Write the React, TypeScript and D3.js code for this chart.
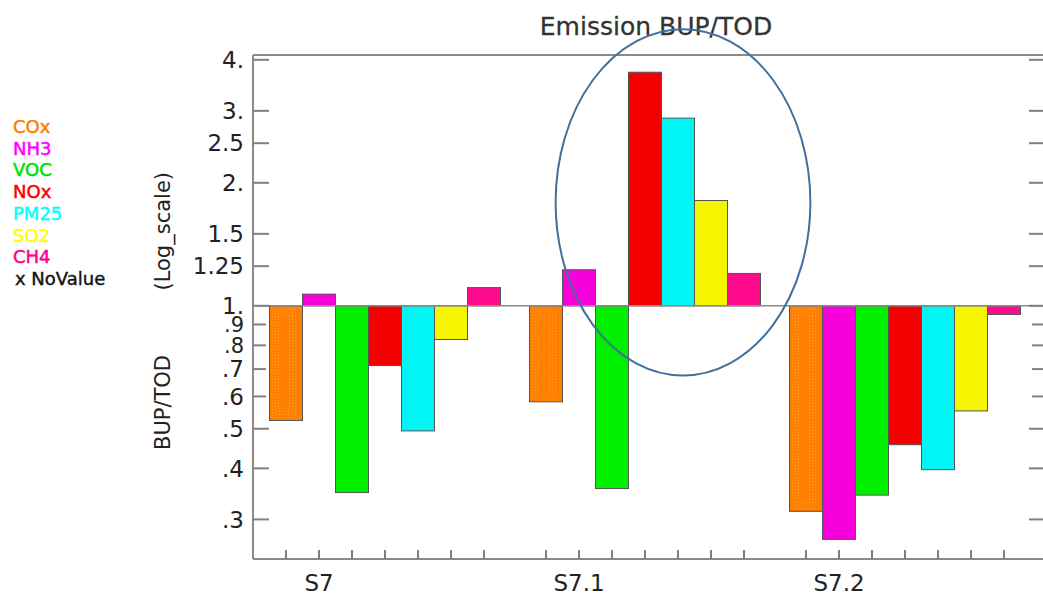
import React from 'react';
import * as d3 from 'd3';

// chart data
const groups = ['S7', 'S7.1', 'S7.2'];
const species = ['COx', 'NH3', 'VOC', 'NOx', 'PM25', 'SO2', 'CH4'];
const valuesS7 = [0.524, 1.068, 0.349, 0.714, 0.494, 0.827, 1.108];
const valuesS71 = [0.582, 1.225, 0.357, 3.73, 2.88, 1.81, 1.2];
const valuesS72 = [0.314, 0.268, 0.344, 0.457, 0.397, 0.553, 0.952];
const seriesValues = [valuesS7, valuesS71, valuesS72];

const yTickValues = [4, 3, 2.5, 2, 1.5, 1.25, 1, 0.9, 0.8, 0.7, 0.6, 0.5, 0.4, 0.3];
const yTickLabels = ['4.', '3.', '2.5', '2.', '1.5', '1.25', '1.', '.9', '.8', '.7', '.6', '.5', '.4', '.3'];

const barColors = ['#ff7f00', '#f600dc', '#00f000', '#f50000', '#00f5f5', '#f5f500', '#ff0a8a'];
const legendColors = ['#ff8000', '#ff00ff', '#00e000', '#ff0000', '#00ffff', '#ffff00', '#ff0090'];

const W = 1043;
const H = 595;
const frame = { left: 253, right: 1045, top: 55, bottom: 559 };
const FONT = '"DejaVu Sans", sans-serif';

export default function App() {
    const y = d3.scaleLog().domain([0.24, 4.11]).range([frame.bottom, frame.top]);

    const groupStep = 260;
    const groupGap = 29;
    const x0 = d3.scaleBand()
        .domain(groups)
        .range([269.5, 269.5 + groupStep * groups.length - groupGap])
        .paddingInner(groupGap / groupStep)
        .paddingOuter(0);
    const x1 = d3.scaleBand().domain(species).range([0, x0.bandwidth()]);
    const bw = x1.bandwidth();
    const y1 = y(1);

    const majorLong = (v: number) => v >= 1 || v <= 0.5;

    // annotation ellipse around the S7.1 peak
    const ex = (x0('S7.1') ?? 0) + (x1('PM25') ?? 0) + bw / 2 + 5;
    const eTop = y(4.75);
    const eBottom = y(0.675);

    return (
        <svg width={W} height={H} style={{ position: 'absolute', left: 0, top: 0, background: '#fff' }}
            fontFamily={FONT}>
            {/* title */}
            <text x={656} y={35} textAnchor="middle" fontSize={25} fill="#333" stroke="#333" strokeWidth={0.3}>Emission BUP/TOD</text>

            {/* legend */}
            {species.map((s, i) => (
                <text key={s} x={13} y={133 + i * 21.7} fontSize={18} fill={legendColors[i]}
                    stroke={legendColors[i]} strokeWidth={0.5}>{s}</text>
            ))}
            <text x={15} y={133 + species.length * 21.7} fontSize={18} fill="#111" stroke="#111" strokeWidth={0.4}>x NoValue</text>

            {/* y axis label */}
            <text transform={`translate(170,450) rotate(-90)`} fontSize={21} fill="#222" textAnchor="start">BUP/TOD</text>
            <text transform={`translate(170,172) rotate(-90)`} fontSize={21} fill="#222" textAnchor="end">(Log_scale)</text>

            {/* bars */}
            {groups.map((g, gi) => (
                <g key={g} transform={`translate(${x0(g)},0)`}>
                    {species.map((s, si) => {
                        const v = seriesValues[gi][si];
                        const yv = y(v);
                        const top = Math.min(yv, y1);
                        const h = Math.abs(yv - y1);
                        const bx = x1(s) ?? 0;
                        return (
                            <g key={s}>
                                <rect x={bx} y={top} width={bw} height={h} fill={barColors[si]}
                                    stroke="#555" strokeWidth={1} />
                                {s === 'COx' && [3, 6, 9].map(k => (
                                    <rect key={k} x={bx + k} y={top + k} width={Math.max(0, bw - 2 * k - 4)}
                                        height={Math.max(0, h - 2 * k)} fill="none" stroke="#ffae3a"
                                        strokeWidth={1} strokeDasharray="1,2" opacity={0.8} />
                                ))}
                            </g>
                        );
                    })}
                </g>
            ))}

            {/* frame */}
            <g stroke="#8a8a8a" strokeWidth={2} fill="none">
                <line x1={frame.left} x2={frame.left} y1={frame.top} y2={frame.bottom} />
                <line x1={frame.right} x2={frame.right} y1={frame.top} y2={frame.bottom} />
                <line x1={frame.left} x2={frame.right} y1={frame.top} y2={frame.top} />
                <line x1={frame.left} x2={frame.right} y1={frame.bottom} y2={frame.bottom} />
            </g>
            <line x1={frame.left} x2={frame.right} y1={y1} y2={y1} stroke="#8a8a8a" strokeWidth={1.5} />

            {/* y ticks, left and right */}
            {yTickValues.map((v, i) => {
                const len = majorLong(v) ? 16 : 13;
                return (
                    <g key={v}>
                        <line x1={frame.left} x2={frame.left + len} y1={y(v)} y2={y(v)} stroke="#808080" strokeWidth={2} />
                        <line x1={frame.right} x2={frame.right - len} y1={y(v)} y2={y(v)} stroke="#808080" strokeWidth={2} />
                        <text x={244} y={y(v)} dy="0.36em" textAnchor="end" fontSize={v < 1 && v > 0.75 ? 21 : 23}
                            fill="#222">{yTickLabels[i]}</text>
                    </g>
                );
            })}

            {/* x ticks at bar centres */}
            {groups.map(g => species.map(s => {
                const cx = (x0(g) ?? 0) + (x1(s) ?? 0) + bw / 2;
                return <line key={g + s} x1={cx} x2={cx} y1={frame.bottom} y2={frame.bottom - 9} stroke="#808080" strokeWidth={2} />;
            }))}
            {groups.map(g => (
                <text key={g} x={(x0(g) ?? 0) + (x1(species[1]) ?? 0) + bw / 2} y={591} textAnchor="middle"
                    fontSize={23} fill="#222">{g}</text>
            ))}

            {/* annotation */}
            <ellipse cx={ex} cy={(eTop + eBottom) / 2} rx={bw * 3.86} ry={(eBottom - eTop) / 2}
                fill="none" stroke="#41709c" strokeWidth={2} />
        </svg>
    );
}
